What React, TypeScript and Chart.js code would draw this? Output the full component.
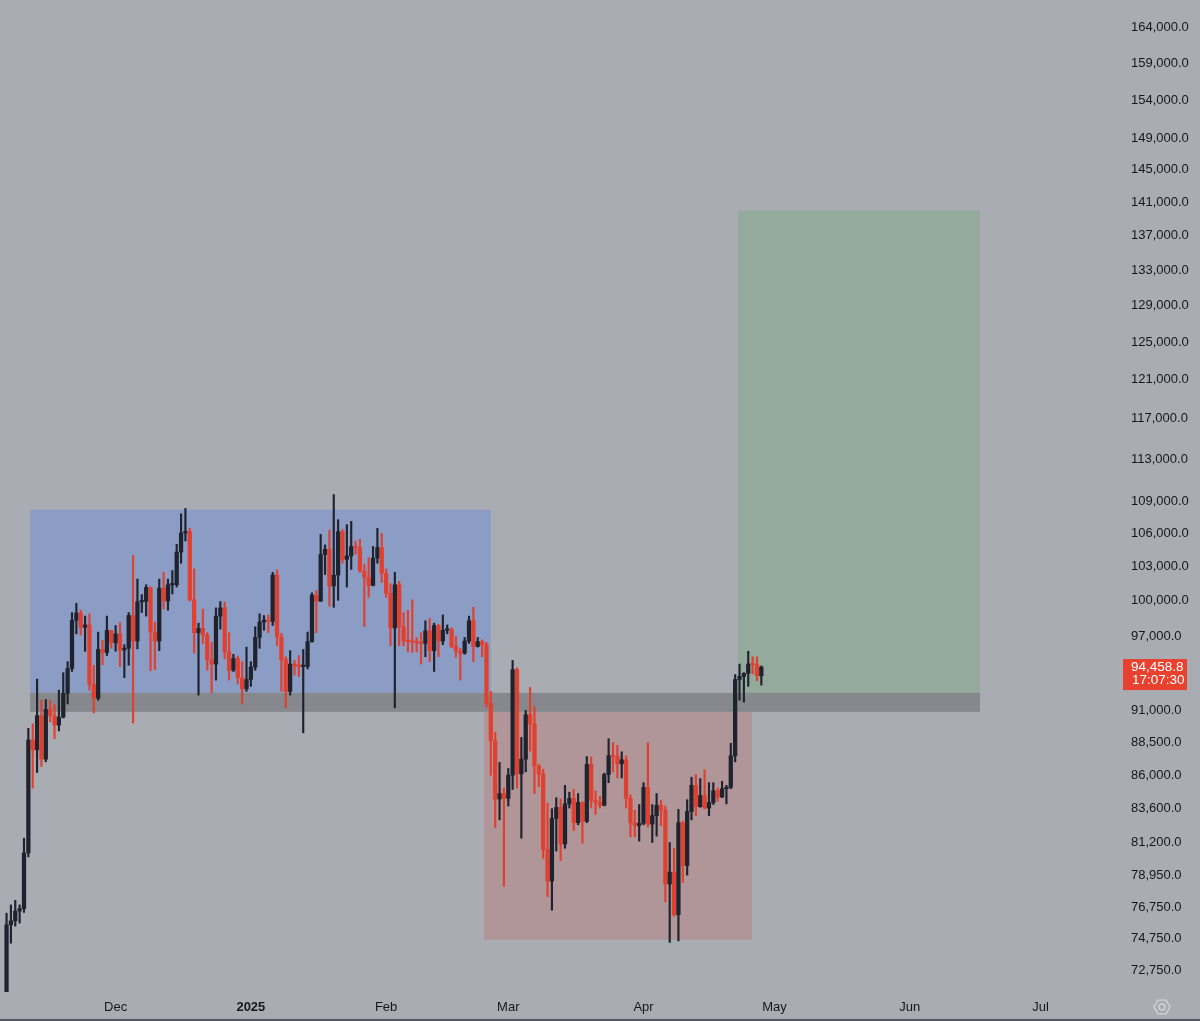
import React, { useEffect, useRef } from "react";
import { Chart, registerables } from "chart.js";

Chart.register(...registerables);

// Daily candles, index 0 = 5 Nov 2024 ... index 174 = 28 Apr 2025
const opens = [
  67800, 69370, 75640, 75900, 76540, 76700, 80470, 88700, 87950, 90580,
  87250, 91060, 90570, 89850, 90470, 92340, 94340, 98340, 98970, 97750,
  97950, 93050, 91950, 95900, 95650, 97480, 96450, 97200, 95850, 96000,
  98750, 96600, 99920, 99950, 101170, 97350, 96600, 101100, 100000, 101400,
  101400, 104300, 106030, 106150, 100100, 97300, 97650, 97100, 95050, 94700,
  98700, 99400, 95700, 94200, 95150, 93600, 92700, 93450, 94450, 96900,
  98200, 98350, 98250, 102250, 96950, 95050, 92500, 94700, 94550, 94500,
  94500, 96550, 100500, 99980, 104080, 104550, 101300, 102250, 106150, 103650,
  103950, 104800, 104700, 102600, 102050, 101350, 103750, 104700, 102400, 100650,
  97700, 101400, 97800, 96600, 96550, 96500, 96450, 96400, 97450, 95800,
  97900, 96600, 97500, 97600, 96150, 95750, 95600, 96600, 98300, 96150,
  96550, 96300, 91550, 88650, 84300, 84700, 84350, 86050, 94250, 86150,
  87250, 90650, 89950, 86750, 86150, 80700, 78550, 82900, 83700, 81100,
  83950, 84350, 82600, 84050, 82700, 86850, 84200, 84050, 83850, 86100,
  87500, 87450, 86900, 87200, 84350, 82600, 82400, 82550, 85150, 82500,
  83100, 83850, 83500, 78350, 79150, 76300, 82600, 79600, 83400, 85300,
  83750, 84550, 83650, 84050, 84900, 84450, 85050, 85150, 87500, 93450,
  93700, 93950, 94700, 94650, 93750,
];
const highs = [
  70550, 76400, 76950, 77250, 76950, 81500, 89600, 89950, 93480, 91800,
  91850, 91750, 91450, 92600, 94000, 94900, 99000, 99800, 99200, 98700,
  98900, 94600, 97350, 96650, 98700, 97500, 97900, 98150, 96300, 99000,
  104000, 101900, 100550, 101400, 101200, 98200, 101900, 102500, 101900, 102650,
  105000, 107800, 108300, 106450, 102800, 98100, 99300, 97300, 96500, 99400,
  99950, 99900, 97300, 95500, 95350, 94900, 96100, 94900, 97800, 98900,
  98750, 98800, 102500, 102700, 97250, 95300, 95800, 95000, 95400, 95900,
  97350, 100700, 100900, 105900, 104950, 106300, 109600, 107250, 106350, 106800,
  107100, 105300, 105450, 103200, 103800, 104800, 106450, 106000, 102800, 101500,
  102500, 101700, 99000, 99200, 100100, 96900, 97300, 98300, 98500, 98100,
  98000, 98800, 97950, 97700, 97000, 96000, 96900, 98700, 99450, 96900,
  96700, 96500, 92500, 89300, 87000, 85100, 86550, 95000, 94400, 88900,
  91000, 92800, 91300, 86850, 86500, 84000, 83600, 84400, 84300, 85300,
  84800, 85000, 84700, 84100, 87450, 87400, 84900, 84500, 86200, 88800,
  88500, 88300, 87800, 87500, 84600, 83500, 83900, 85500, 88500, 83900,
  84700, 84200, 83800, 81200, 80800, 83550, 82700, 84250, 85900, 86100,
  85800, 86450, 85500, 85500, 85100, 85600, 85300, 88450, 93850, 94700,
  94000, 95750, 95300, 95300, 94550,
];
const lows = [
  67450, 69070, 74450, 75550, 75750, 76450, 80200, 85100, 86250, 86700,
  87050, 90100, 88800, 89400, 90400, 91500, 94100, 97200, 97100, 95750,
  92600, 90800, 91800, 94650, 95400, 96000, 95750, 94500, 93600, 94600,
  90000, 95950, 99000, 98700, 94150, 94250, 95800, 99300, 99200, 100600,
  101200, 103300, 105300, 100000, 95600, 92200, 96400, 94200, 92400, 93400,
  97600, 95150, 93400, 94100, 93100, 91500, 92500, 92900, 94200, 96000,
  97500, 97300, 97900, 96200, 92500, 91200, 92200, 93800, 93700, 89250,
  94300, 96500, 97300, 99950, 102300, 99550, 99450, 100050, 103300, 101200,
  102750, 104100, 102500, 97800, 100300, 101300, 103300, 101600, 100300, 96200,
  91200, 96200, 96200, 95700, 95650, 95700, 94700, 95300, 94900, 94100,
  95300, 96300, 97200, 96050, 95250, 93400, 95500, 96400, 94900, 96100,
  95300, 91250, 86050, 82250, 82800, 78200, 83800, 85000, 85100, 81500,
  86300, 87850, 84700, 85200, 80100, 77500, 76600, 80600, 79950, 80800,
  83650, 82050, 82450, 81150, 82600, 83650, 83200, 83650, 83800, 85500,
  86300, 85850, 85850, 83650, 81600, 81600, 81300, 82450, 82300, 81200,
  81650, 82400, 77150, 74500, 76200, 74600, 78450, 78950, 82800, 83100,
  83700, 83600, 83100, 83900, 84150, 84400, 83950, 85050, 87050, 91800,
  91650, 92900, 93900, 93350, 93000,
];
const closes = [
  69370, 75640, 75900, 76540, 76700, 80470, 88700, 87950, 90580, 87250,
  91060, 90570, 89850, 90470, 92340, 94340, 98340, 98970, 97750, 97950,
  93050, 91950, 95900, 95650, 97480, 96450, 97200, 95850, 96000, 98750,
  96600, 99920, 99950, 101170, 97350, 96600, 101100, 100000, 101400, 101400,
  104300, 106030, 106150, 100100, 97300, 97650, 97100, 95050, 94700, 98700,
  99400, 95700, 94200, 95150, 93600, 92700, 93450, 94450, 96900, 98200,
  98350, 98250, 102250, 96950, 95050, 92500, 94700, 94550, 94500, 94500,
  96550, 100500, 99980, 104080, 104550, 101300, 102250, 106150, 103650, 103950,
  104800, 104700, 102600, 102050, 101350, 103750, 104700, 102400, 100650, 97700,
  101400, 97800, 96600, 96550, 96500, 96450, 96400, 97450, 95800, 97900,
  96600, 97500, 97600, 96150, 95750, 95600, 96600, 98300, 96150, 96550,
  96300, 91550, 88650, 84300, 84700, 84350, 86050, 94250, 86150, 87250,
  90650, 89950, 86750, 86150, 80700, 78550, 82900, 83700, 81100, 83950,
  84350, 82600, 84050, 82700, 86850, 84200, 84050, 83850, 86100, 87500,
  87450, 86900, 87200, 84350, 82600, 82400, 82550, 85150, 82500, 83100,
  83850, 83500, 78350, 79150, 76300, 82600, 79600, 83400, 85300, 83750,
  84550, 83650, 84050, 84900, 84450, 85050, 85150, 87500, 93450, 93700,
  93950, 94700, 94650, 93750, 94458.8,
];

// Month ticks (day index of the 1st of each month)
const monthTickIndex = [26, 57, 88, 116, 147, 177, 208, 238];
const monthTickLabels = ["Dec", "2025", "Feb", "Mar", "Apr", "May", "Jun", "Jul"];

const priceTicks = [
  164000, 159000, 154000, 149000, 145000, 141000, 137000, 133000, 129000,
  125000, 121000, 117000, 113000, 109000, 106000, 103000, 100000, 97000,
  91000, 88500, 86000, 83600, 81200, 78950, 76750, 74750, 72750,
];

const lastPrice = 94458.8;
const countdown = "17:07:30";

// Zones: [start day index, end day index], [low price, high price]
const zoneStart = [6.4, 6.4, 110.4, 168.6];
const zoneEnd = [112.0, 224.1, 171.9, 224.1];
const zoneLow = [92380, 90880, 74670, 92380];
const zoneHigh = [108170, 92380, 90880, 140000];

const FONT = "'Liberation Sans', Arial, sans-serif";
const BG = "#aaacb4";
const UP = "#1f232e";
const DOWN = "#e0402f";
const ZONE_COLORS = ["#8c9dc5", "#87888e", "#b09599", "#94aa9c"];

const zonesPlugin = {
  id: "zones",
  beforeDatasetsDraw(chart: any) {
    const { ctx, chartArea, scales } = chart;
    const xs = scales.x;
    const ys = scales.y;
    ctx.save();
    ctx.beginPath();
    ctx.rect(chartArea.left, chartArea.top, chartArea.right - chartArea.left, chartArea.bottom - chartArea.top);
    ctx.clip();
    const order = [0, 2, 3, 1];
    for (const i of order) {
      const x0 = xs.getPixelForValue(zoneStart[i]);
      const x1 = xs.getPixelForValue(zoneEnd[i]);
      const y0 = ys.getPixelForValue(zoneHigh[i]);
      const y1 = ys.getPixelForValue(zoneLow[i]);
      ctx.fillStyle = ZONE_COLORS[i];
      ctx.fillRect(x0, y0, x1 - x0, y1 - y0);
    }
    ctx.restore();
  },
};

const overlayPlugin = {
  id: "overlay",
  afterDraw(chart: any) {
    const { ctx, chartArea, scales, width, height } = chart;
    const ys = scales.y;
    const y = ys.getPixelForValue(lastPrice);
    const left = chartArea.right + 5;
    const right = width - 13;
    ctx.save();
    ctx.fillStyle = "#e8412f";
    ctx.fillRect(left, y - 8, right - left, 31);
    ctx.fillStyle = "#ffffff";
    ctx.font = `13.5px ${FONT}`;
    ctx.textAlign = "left";
    ctx.textBaseline = "middle";
    ctx.fillText(
      lastPrice.toLocaleString("en-US", { minimumFractionDigits: 1, maximumFractionDigits: 1 }),
      chartArea.right + 13,
      y
    );
    ctx.fillText(countdown, chartArea.right + 14, y + 13.5);

    // settings icon
    const cx = 1162;
    const cy = 1007;
    ctx.strokeStyle = "#d2d4da";
    ctx.lineWidth = 1.3;
    ctx.beginPath();
    for (let k = 0; k < 6; k++) {
      const a = (Math.PI / 3) * k;
      const px = cx + 8 * Math.cos(a);
      const py = cy + 8 * Math.sin(a);
      if (k === 0) ctx.moveTo(px, py);
      else ctx.lineTo(px, py);
    }
    ctx.closePath();
    ctx.stroke();
    ctx.beginPath();
    ctx.arc(cx, cy, 3, 0, Math.PI * 2);
    ctx.stroke();

    // bottom edge line
    ctx.fillStyle = "#55575d";
    ctx.fillRect(0, height - 2, width, 2);
    ctx.restore();
  },
};

export default function App() {
  const canvasRef = useRef<HTMLCanvasElement | null>(null);

  useEffect(() => {
    if (!canvasRef.current) return;
    const idx = closes.map((_, i) => i);
    const colors = idx.map((i) => (closes[i] >= opens[i] ? UP : DOWN));
    const chart = new Chart(canvasRef.current, {
      type: "bar",
      data: {
        datasets: [
          {
            label: "wick",
            data: idx.map((i) => ({ x: i, y: [lows[i], highs[i]] })) as any,
            backgroundColor: colors,
            barThickness: 1.5,
            grouped: false,
            order: 2,
          } as any,
          {
            label: "body",
            data: idx.map((i) => ({ x: i, y: [opens[i], closes[i]] })) as any,
            backgroundColor: colors,
            barThickness: 3.6,
            minBarLength: 1.5,
            grouped: false,
            order: 1,
          } as any,
        ],
      },
      options: {
        animation: false,
        responsive: true,
        maintainAspectRatio: false,
        layout: { padding: { left: 0, top: 0, right: 10, bottom: 0 } },
        plugins: { legend: { display: false }, tooltip: { enabled: false } },
        scales: {
          x: {
            type: "linear",
            min: -0.5,
            max: 255.75,
            offset: false,
            grid: { display: false, drawTicks: false },
            border: { display: false },
            afterBuildTicks: (s: any) => {
              s.ticks = monthTickIndex.map((v) => ({ value: v }));
            },
            afterFit: (s: any) => {
              s.height = 29;
              s.paddingLeft = 0;
              s.paddingRight = 0;
            },
            ticks: {
              autoSkip: false,
              maxRotation: 0,
              minRotation: 0,
              padding: 8,
              color: "#15171e",
              font: (c: any) => ({
                family: FONT,
                size: 13,
                weight: c.tick && c.tick.value === 57 ? "bold" : "normal",
              }),
              callback: (v: any) => {
                const k = monthTickIndex.indexOf(Number(v));
                return k >= 0 ? monthTickLabels[k] : "";
              },
            },
          },
          y: {
            type: "logarithmic",
            position: "right",
            min: 71383,
            max: 167862,
            grid: { display: false, drawTicks: false },
            border: { display: false },
            afterBuildTicks: (s: any) => {
              s.ticks = priceTicks.map((v) => ({ value: v }));
            },
            afterFit: (s: any) => {
              s.width = 72;
              s.paddingTop = 0;
              s.paddingBottom = 0;
            },
            ticks: {
              autoSkip: false,
              crossAlign: "near",
              padding: 13,
              color: "#15171e",
              font: { family: FONT, size: 13 },
              callback: (v: any) =>
                Number(v).toLocaleString("en-US", { minimumFractionDigits: 1, maximumFractionDigits: 1 }),
            },
          },
        },
      },
      plugins: [zonesPlugin, overlayPlugin],
    } as any);
    return () => chart.destroy();
  }, []);

  return (
    <div
      style={{
        position: "fixed",
        left: 0,
        top: 0,
        width: 1200,
        height: 1021,
        background: BG,
      }}
    >
      <canvas ref={canvasRef} />
    </div>
  );
}
